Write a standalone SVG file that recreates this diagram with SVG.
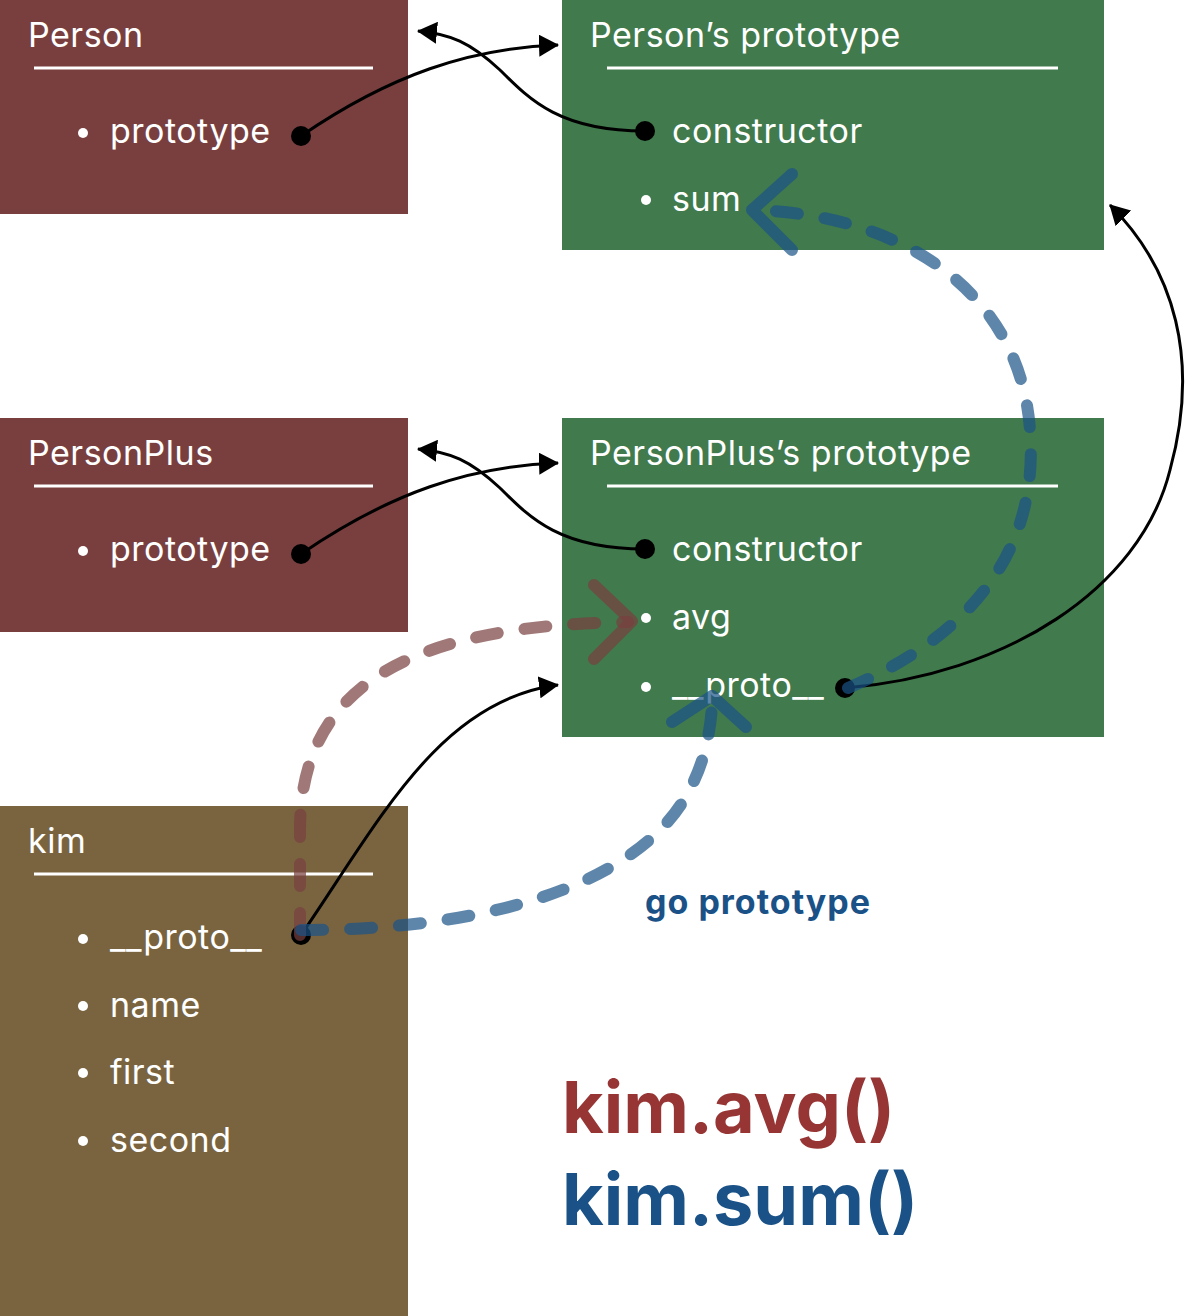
<svg xmlns="http://www.w3.org/2000/svg" width="1188" height="1316" viewBox="0 0 1188 1316">
<style>
.t{font-family:Inter,"Noto Sans","Liberation Sans",sans-serif;font-size:34px;letter-spacing:0.5px;fill:#fff}
.rule{stroke:#fff;stroke-width:3}
.bul{fill:#fff}
.dot{fill:#000}
.blk{fill:none;stroke:#000;stroke-width:3}
.bd{fill:none;stroke:#1A5287;stroke-opacity:0.7;stroke-width:12;stroke-linecap:round;stroke-linejoin:round}
.rd{fill:none;stroke:#793F3F;stroke-opacity:0.7;stroke-width:12;stroke-linecap:round;stroke-linejoin:round}
.dash{stroke-dasharray:22 27}
.big{font-family:Inter,"Noto Sans","Liberation Sans",sans-serif;font-weight:700}
</style>
<defs>
<marker id="ah" viewBox="0 0 20 22" refX="19" refY="11" markerWidth="20" markerHeight="22" markerUnits="userSpaceOnUse" orient="auto">
<path d="M0,0 L20,11 L0,22 z" fill="#000"/>
</marker>
</defs>
<rect width="1188" height="1316" fill="#fff"/>

<g id="person">
<rect x="0" y="0" width="408" height="214" fill="#793F3F"/>
<text class="t" x="28" y="47">Person</text>
<line class="rule" x1="34" y1="68" x2="373" y2="68"/>
<circle class="bul" cx="83" cy="133" r="5"/>
<text class="t" x="110" y="143">prototype</text>
<circle class="dot" cx="301" cy="136" r="10"/>
</g>

<g id="person-prototype">
<rect x="562" y="0" width="542" height="250" fill="#417A4D"/>
<text class="t" x="590" y="47">Person’s prototype</text>
<line class="rule" x1="607" y1="68" x2="1058" y2="68"/>
<circle class="dot" cx="645" cy="131" r="10"/>
<text class="t" x="672" y="143">constructor</text>
<circle class="bul" cx="646" cy="200" r="5"/>
<text class="t" x="672" y="211">sum</text>
</g>

<g id="personplus">
<rect x="0" y="418" width="408" height="214" fill="#793F3F"/>
<text class="t" x="28" y="465">PersonPlus</text>
<line class="rule" x1="34" y1="486" x2="373" y2="486"/>
<circle class="bul" cx="83" cy="551" r="5"/>
<text class="t" x="110" y="561">prototype</text>
<circle class="dot" cx="301" cy="554" r="10"/>
</g>

<g id="personplus-prototype">
<rect x="562" y="418" width="542" height="319" fill="#417A4D"/>
<text class="t" x="590" y="465">PersonPlus’s prototype</text>
<line class="rule" x1="607" y1="486" x2="1058" y2="486"/>
<circle class="dot" cx="645" cy="549" r="10"/>
<text class="t" x="672" y="561">constructor</text>
<circle class="bul" cx="646" cy="618" r="5"/>
<text class="t" x="672" y="629">avg</text>
<circle class="bul" cx="646" cy="687" r="5"/>
<text class="t" x="672" y="697">__proto__</text>
<circle class="dot" cx="845" cy="688" r="10"/>
</g>

<g id="kim">
<rect x="0" y="806" width="408" height="510" fill="#7A6440"/>
<text class="t" x="28" y="853">kim</text>
<line class="rule" x1="34" y1="874" x2="373" y2="874"/>
<circle class="bul" cx="83" cy="939" r="5"/>
<text class="t" x="110" y="949">__proto__</text>
<circle class="bul" cx="83" cy="1006" r="5"/>
<text class="t" x="110" y="1017">name</text>
<circle class="bul" cx="83" cy="1073" r="5"/>
<text class="t" x="110" y="1084">first</text>
<circle class="bul" cx="83" cy="1141" r="5"/>
<text class="t" x="110" y="1152">second</text>
<circle class="dot" cx="301" cy="935" r="10"/>
</g>

<g id="connectors">
<path class="blk" marker-end="url(#ah)" d="M301,136 C390,75 470,48 558,45"/>
<path class="blk" marker-end="url(#ah)" d="M645,131 C560,131 530,100 500,70 C470,42 450,34 418,31"/>
<path class="blk" marker-end="url(#ah)" d="M301,554 C390,493 470,466 558,463"/>
<path class="blk" marker-end="url(#ah)" d="M645,549 C560,549 530,518 500,488 C470,460 450,452 418,449"/>
<path class="blk" marker-end="url(#ah)" d="M301,935 C380,820 440,700 558,685"/>
<path class="blk" marker-end="url(#ah)" d="M845,688 C1005,675 1140,590 1170,470 C1200,360 1175,270 1110,205"/>

<path class="rd dash" d="M300,935 L300,830 C300,680 420,625 628,622"/>
<polyline class="rd" points="594,585 632,621 594,659"/>

<path class="bd dash" d="M848,688 C960,640 1040,560 1030,430 C1020,290 900,215 755,210"/>
<polyline class="bd" points="792,174 752,210 792,250"/>

<path class="bd dash" d="M301,930 C480,930 600,890 660,830 C700,790 710,740 712,705"/>
<polyline class="bd" points="672,722 712,696 746,727"/>
</g>

<text class="big" x="645" y="914" font-size="34" letter-spacing="1" fill="#1A5287">go prototype</text>
<text class="big" x="562" y="1133" font-size="72" fill="#973535">kim.avg()</text>
<text class="big" x="562" y="1225" font-size="72" fill="#1A5287">kim.sum()</text>
</svg>
